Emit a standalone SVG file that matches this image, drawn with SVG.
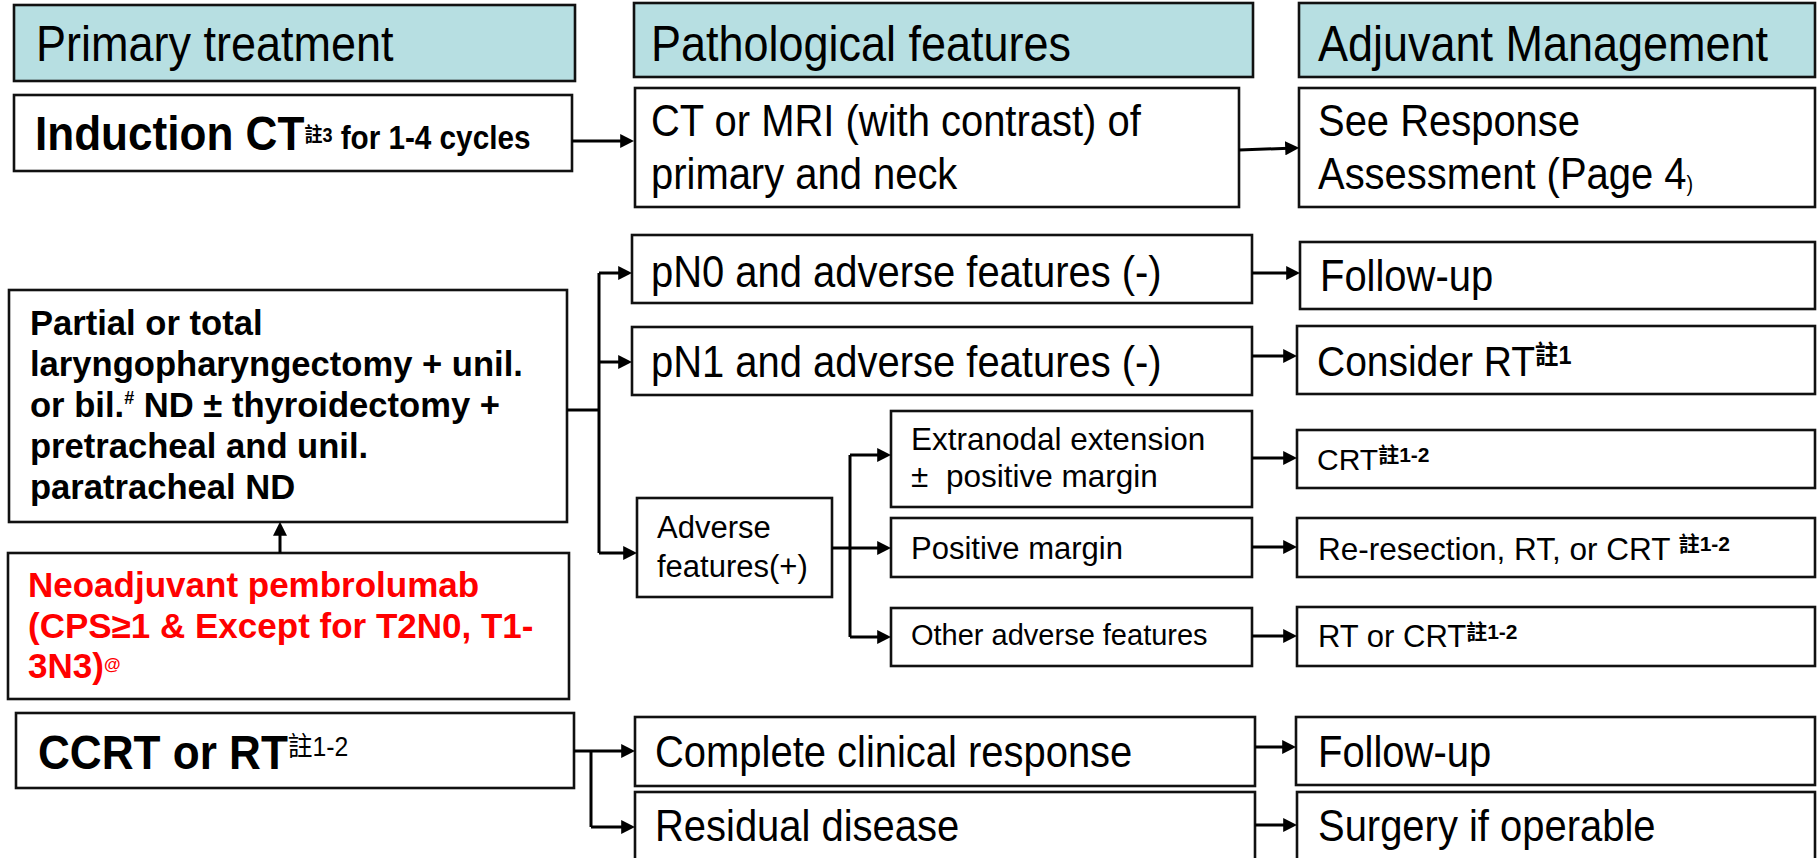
<svg xmlns="http://www.w3.org/2000/svg" width="1818" height="858" viewBox="0 0 1818 858">
<defs>
<style>
.box{fill:#fff;stroke:#111;stroke-width:2.6}
.hdr{fill:#B7DFE2;stroke:#111;stroke-width:2.6}
text{font-family:"Liberation Sans",Arial,"Noto Sans CJK TC",sans-serif;fill:#000}
.cjk{font-family:"Noto Sans CJK TC","Liberation Sans",sans-serif}
.cond{transform-box:fill-box;transform-origin:0 0;transform:scaleX(0.9)}
.h{font-size:50px}
.t40{font-size:44.4px}
.t31{font-size:31px}
.b{font-weight:bold}
.red{fill:#FF0000}
.conn path{fill:none;stroke:#000;stroke-width:3}
</style>
<marker id="ah" viewBox="0 0 10 10" refX="7" refY="5" markerWidth="14" markerHeight="14" markerUnits="userSpaceOnUse" orient="auto"><path d="M0,0 L10,5 L0,10 z" fill="#000"/></marker>
</defs>
<rect width="1818" height="858" fill="#fff"/>

<g id="hdr-primary"><rect class="hdr" x="14" y="5" width="561" height="76"/><text class="h cond" x="36" y="61">Primary treatment</text></g>
<g id="hdr-path"><rect class="hdr" x="634" y="3" width="619" height="74"/><text class="h cond" x="651" y="61">Pathological features</text></g>
<g id="hdr-adj"><rect class="hdr" x="1299" y="3" width="516" height="74"/><text class="h cond" x="1318" y="61">Adjuvant Management</text></g>

<g id="induction"><rect class="box" x="14" y="95" width="558" height="76"/>
<text class="b cond" x="35" y="150"><tspan font-size="49">Induction CT</tspan><tspan class="cjk" font-size="20" dy="-8">註</tspan><tspan font-size="20" dy="0">3</tspan><tspan font-size="33" dy="7"> for 1-4 cycles</tspan></text></g>

<g id="ct-mri"><rect class="box" x="635" y="88" width="604" height="119"/>
<text class="t40 cond" x="651" y="136">CT or MRI (with contrast) of</text>
<text class="t40 cond" x="651" y="189">primary and neck</text></g>

<g id="see-response"><rect class="box" x="1299" y="88" width="516" height="119"/>
<text class="t40 cond" x="1318" y="136">See Response</text>
<text class="t40 cond" x="1318" y="189">Assessment (Page 4<tspan font-size="22" dy="2">)</tspan></text></g>

<g id="surgery-main"><rect class="box" x="9" y="290" width="558" height="232"/>
<text class="b" font-size="34.6" x="30" y="335">Partial or total</text>
<text class="b" font-size="34.6" x="30" y="376">laryngopharyngectomy + unil.</text>
<text class="b" font-size="34.6" x="30" y="417">or bil.<tspan font-size="18" dy="-13">#</tspan><tspan dy="13"> ND ± thyroidectomy +</tspan></text>
<text class="b" font-size="34.6" x="30" y="458">pretracheal and unil.</text>
<text class="b" font-size="34.6" x="30" y="499">paratracheal ND</text></g>

<g id="neoadjuvant"><rect class="box" x="8" y="553" width="561" height="146"/>
<text class="b red" font-size="35" x="28" y="597">Neoadjuvant pembrolumab</text>
<text class="b red" font-size="35" x="28" y="638">(CPS≥1 &amp; Except for T2N0, T1-</text>
<text class="b red" font-size="35" x="28" y="678">3N3)<tspan font-size="17" dy="-8">@</tspan></text></g>

<g id="ccrt"><rect class="box" x="16" y="713" width="558" height="75"/>
<text class="cond" x="38" y="769"><tspan class="b" font-size="49">CCRT or RT</tspan><tspan class="cjk" font-size="27.5" dy="-13">註</tspan><tspan font-size="27.5">1-2</tspan></text></g>

<g id="pn0"><rect class="box" x="632" y="235" width="620" height="68"/><text class="t40 cond" x="651" y="287">pN0 and adverse features (-)</text></g>
<g id="pn1"><rect class="box" x="632" y="327" width="620" height="68"/><text class="t40 cond" x="651" y="377">pN1 and adverse features (-)</text></g>

<g id="adverse"><rect class="box" x="637" y="498" width="195" height="99"/>
<text class="t31" x="657" y="538">Adverse</text><text class="t31" x="657" y="577">features(+)</text></g>

<g id="extranodal"><rect class="box" x="891" y="411" width="361" height="96"/>
<text font-size="31.5" x="911" y="450">Extranodal extension</text>
<text font-size="31.5" x="911" y="487">±<tspan x="946">positive margin</tspan></text></g>
<g id="positive-margin"><rect class="box" x="891" y="518" width="361" height="59"/><text class="t31" x="911" y="559">Positive margin</text></g>
<g id="other-adverse"><rect class="box" x="891" y="608" width="361" height="58"/><text font-size="29" x="911" y="645">Other adverse features</text></g>

<g id="complete"><rect class="box" x="635" y="717" width="620" height="69"/><text class="t40 cond" x="655" y="767">Complete clinical response</text></g>
<g id="residual"><rect class="box" x="635" y="792" width="620" height="80"/><text class="t40 cond" x="655" y="841">Residual disease</text></g>

<g id="followup1"><rect class="box" x="1300" y="242" width="515" height="67"/><text class="t40 cond" x="1320" y="291">Follow-up</text></g>
<g id="consider-rt"><rect class="box" x="1297" y="326" width="518" height="68"/>
<text class="cond" x="1317" y="376"><tspan font-size="43.3">Consider RT</tspan><tspan class="cjk b" font-size="26" dy="-12">註</tspan><tspan class="b" font-size="26">1</tspan></text></g>
<g id="crt"><rect class="box" x="1297" y="430" width="518" height="58"/>
<text x="1317" y="470"><tspan font-size="30">CRT</tspan><tspan class="cjk b" font-size="21" dy="-8">註</tspan><tspan class="b" font-size="21">1-2</tspan></text></g>
<g id="reresection"><rect class="box" x="1297" y="518" width="518" height="59"/>
<text x="1318" y="560"><tspan font-size="31.5">Re-resection, RT, or CRT </tspan><tspan class="cjk b" font-size="21" dy="-9">註</tspan><tspan class="b" font-size="21">1-2</tspan></text></g>
<g id="rt-crt"><rect class="box" x="1297" y="607" width="518" height="59"/>
<text x="1318" y="647"><tspan font-size="31">RT or CRT</tspan><tspan class="cjk b" font-size="21" dy="-8">註</tspan><tspan class="b" font-size="21">1-2</tspan></text></g>
<g id="followup2"><rect class="box" x="1296" y="717" width="519" height="68"/><text class="t40 cond" x="1318" y="767">Follow-up</text></g>
<g id="surgery-operable"><rect class="box" x="1297" y="792" width="518" height="80"/><text class="t40 cond" x="1318" y="841">Surgery if operable</text></g>

<g id="connectors" class="conn">
<path d="M572,141 H630" marker-end="url(#ah)"/>
<path d="M1239,150 L1295,148" marker-end="url(#ah)"/>
<path d="M567,410 H599"/>
<path d="M599,273 V553"/>
<path d="M599,273 H628" marker-end="url(#ah)"/>
<path d="M599,362 H628" marker-end="url(#ah)"/>
<path d="M599,553 H633" marker-end="url(#ah)"/>
<path d="M280,553 V526" marker-end="url(#ah)"/>
<path d="M832,548 H850"/>
<path d="M850,455 V637"/>
<path d="M850,455 H887" marker-end="url(#ah)"/>
<path d="M850,548 H887" marker-end="url(#ah)"/>
<path d="M850,637 H887" marker-end="url(#ah)"/>
<path d="M1252,273 H1296" marker-end="url(#ah)"/>
<path d="M1252,356 H1293" marker-end="url(#ah)"/>
<path d="M1252,458 H1293" marker-end="url(#ah)"/>
<path d="M1252,547 H1293" marker-end="url(#ah)"/>
<path d="M1252,636 H1293" marker-end="url(#ah)"/>
<path d="M574,751 H591"/>
<path d="M591,751 V827"/>
<path d="M591,751 H631" marker-end="url(#ah)"/>
<path d="M591,827 H631" marker-end="url(#ah)"/>
<path d="M1255,747 H1292" marker-end="url(#ah)"/>
<path d="M1255,825 H1293" marker-end="url(#ah)"/>
</g>
</svg>
